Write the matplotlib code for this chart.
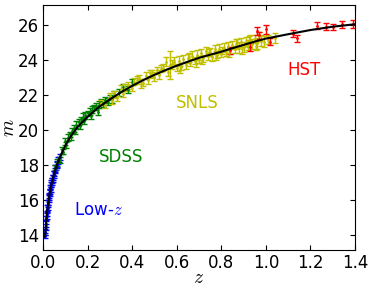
import numpy as np
import matplotlib
matplotlib.use("Agg")
import matplotlib.pyplot as plt

# Low-z sample (blue)
z_low = [0.010, 0.011, 0.012, 0.014, 0.015, 0.016, 0.018, 0.019, 0.021, 0.022,
         0.024, 0.025, 0.027, 0.028, 0.030, 0.031, 0.033, 0.035, 0.036, 0.038,
         0.040, 0.042, 0.044, 0.046, 0.048, 0.050, 0.053, 0.056, 0.059, 0.062,
         0.065, 0.068, 0.072, 0.076]
m_low = [13.95, 14.15, 14.45, 14.65, 14.95, 15.10, 15.22, 15.50, 15.55, 15.80,
         15.85, 16.10, 16.25, 16.15, 16.50, 16.40, 16.70, 16.65, 16.90, 16.95,
         17.10, 17.05, 17.30, 17.25, 17.50, 17.45, 17.70, 17.80, 17.85, 18.05,
         18.00, 18.25, 18.30, 18.45]
e_low = [0.15, 0.18, 0.15, 0.2, 0.15, 0.18, 0.15, 0.2, 0.15, 0.18,
         0.15, 0.2, 0.15, 0.18, 0.15, 0.2, 0.15, 0.18, 0.15, 0.2,
         0.15, 0.18, 0.15, 0.2, 0.15, 0.18, 0.15, 0.2, 0.15, 0.18,
         0.15, 0.2, 0.15, 0.18]

# SDSS (green)
z_sdss = [0.055, 0.065, 0.075, 0.085, 0.09, 0.10, 0.105, 0.11, 0.12, 0.125,
          0.13, 0.14, 0.145, 0.15, 0.16, 0.165, 0.17, 0.18, 0.185, 0.19,
          0.20, 0.21, 0.215, 0.22, 0.23, 0.24, 0.245, 0.25, 0.26, 0.27,
          0.28, 0.29, 0.30, 0.31, 0.32, 0.34, 0.36, 0.38, 0.40]
m_sdss = [17.85, 18.15, 18.30, 18.85, 18.75, 19.35, 19.15, 19.55, 19.75, 19.60,
          19.95, 20.10, 19.90, 20.30, 20.45, 20.25, 20.60, 20.75, 20.50, 20.85,
          20.95, 21.05, 20.80, 21.15, 21.30, 21.35, 21.05, 21.45, 21.60, 21.50,
          21.70, 21.60, 21.85, 21.75, 22.05, 22.15, 22.45, 22.30, 22.75]
e_sdss = [0.15, 0.2, 0.18, 0.2, 0.15, 0.2, 0.18, 0.2, 0.15, 0.2,
          0.18, 0.2, 0.15, 0.2, 0.18, 0.2, 0.15, 0.2, 0.18, 0.2,
          0.15, 0.2, 0.18, 0.2, 0.15, 0.2, 0.18, 0.2, 0.15, 0.2,
          0.18, 0.2, 0.15, 0.2, 0.18, 0.2, 0.15, 0.2, 0.18]

# SNLS (yellow)
z_snls = [0.26, 0.28, 0.30, 0.32, 0.33, 0.35, 0.36, 0.38, 0.40, 0.41,
          0.43, 0.44, 0.46, 0.47, 0.48, 0.50, 0.51, 0.52, 0.54, 0.55,
          0.56, 0.57, 0.58, 0.60, 0.61, 0.62, 0.63, 0.64, 0.65, 0.66,
          0.67, 0.68, 0.69, 0.70, 0.71, 0.72, 0.73, 0.74, 0.75, 0.76,
          0.77, 0.78, 0.79, 0.80, 0.81, 0.82, 0.83, 0.84, 0.85, 0.86,
          0.87, 0.88, 0.89, 0.90, 0.91, 0.92, 0.93, 0.94, 0.95, 0.96,
          0.97, 0.99, 1.01, 1.04,
          0.31, 0.37, 0.42, 0.45, 0.49, 0.53, 0.59, 0.615, 0.655, 0.685,
          0.715, 0.745, 0.775, 0.805, 0.835, 0.865, 0.895, 0.925, 0.955, 0.98]
m_snls = [21.55, 21.45, 21.95, 22.05, 21.80, 22.35, 22.05, 22.55, 22.40, 22.75,
          22.95, 22.65, 23.10, 22.85, 23.25, 23.05, 23.40, 23.15, 23.55, 23.90,
          23.30, 23.70, 23.75, 23.55, 23.95, 23.60, 24.05, 23.70, 24.10, 23.85,
          24.25, 23.95, 24.30, 24.00, 24.40, 24.10, 24.50, 24.20, 24.45, 24.15,
          24.60, 24.30, 24.65, 24.35, 24.70, 24.45, 24.80, 24.55, 24.85, 24.60,
          24.95, 24.70, 25.00, 24.75, 25.05, 24.85, 25.15, 24.90, 25.20, 24.95,
          25.35, 25.05, 25.15, 25.25,
          21.70, 22.40, 22.85, 22.70, 23.20, 23.50, 23.90, 23.45, 24.15, 23.80,
          24.00, 24.45, 24.25, 24.55, 24.40, 24.90, 24.60, 25.05, 24.80, 25.10]
e_snls = [0.15, 0.2, 0.15, 0.2, 0.15, 0.2, 0.15, 0.2, 0.15, 0.2,
          0.2, 0.25, 0.2, 0.25, 0.2, 0.25, 0.2, 0.25, 0.2, 0.25,
          0.2, 0.8, 0.25, 0.2, 0.25, 0.2, 0.25, 0.2, 0.25, 0.2,
          0.25, 0.2, 0.25, 0.2, 0.25, 0.2, 0.25, 0.2, 0.25, 0.2,
          0.25, 0.2, 0.25, 0.2, 0.25, 0.2, 0.25, 0.2, 0.25, 0.2,
          0.25, 0.3, 0.25, 0.3, 0.25, 0.3, 0.25, 0.3, 0.25, 0.3,
          0.25, 0.3, 0.25, 0.3,
          0.2, 0.2, 0.25, 0.2, 0.25, 0.2, 0.25, 0.2, 0.25, 0.2,
          0.25, 0.2, 0.25, 0.2, 0.25, 0.3, 0.25, 0.3, 0.25, 0.3]

# HST (red)
z_hst = [0.84, 0.93, 0.96, 0.97, 1.00, 1.02, 1.12, 1.14, 1.23, 1.27, 1.30, 1.34, 1.39]
m_hst = [24.55, 24.75, 25.65, 25.40, 25.75, 25.05, 25.50, 25.25, 25.95, 25.90, 25.90, 26.05, 26.05]
e_hst = [0.2, 0.22, 0.25, 0.22, 0.25, 0.22, 0.2, 0.2, 0.2, 0.2, 0.18, 0.2, 0.22]

# best-fit curve
z_fit = [0.005, 0.01, 0.015, 0.02, 0.03, 0.04, 0.05, 0.06, 0.07, 0.08, 0.1, 0.12,
         0.15, 0.2, 0.25, 0.3, 0.35, 0.4, 0.45, 0.5, 0.55, 0.6, 0.65, 0.7,
         0.75, 0.8, 0.85, 0.9, 0.95, 1.0, 1.1, 1.2, 1.3, 1.4]
m_fit = [13.9, 14.0, 14.88, 15.5, 16.4, 17.02, 17.52, 17.92, 18.26, 18.56, 19.1, 19.55,
         20.1, 20.75, 21.3, 21.75, 22.15, 22.52, 22.85, 23.15, 23.42, 23.67, 23.9, 24.12,
         24.3, 24.47, 24.67, 24.86, 25.05, 25.22, 25.47, 25.71, 25.9, 26.04]

plt.rcParams['xtick.direction'] = 'in'
plt.rcParams['ytick.direction'] = 'in'
plt.rcParams['xtick.top'] = True
plt.rcParams['ytick.right'] = True
plt.rcParams['mathtext.fontset'] = 'cm'

fig = plt.figure(figsize=(3.74, 2.87), dpi=100)
ax = fig.add_axes([43 / 374, 37 / 287, 312 / 374, 245 / 287])

ax.plot(z_fit, m_fit, color='k', lw=1.5, zorder=5)
kw = dict(fmt='.', ms=2, capsize=2, elinewidth=1, capthick=1)
ax.errorbar(z_low, m_low, yerr=e_low, color='b', **kw)
ax.errorbar(z_sdss, m_sdss, yerr=e_sdss, color='g', **kw)
ax.errorbar(z_snls, m_snls, yerr=e_snls, color='y', **kw)
ax.errorbar(z_hst, m_hst, yerr=e_hst, color='r', **kw)

ax.text(1.17, 23.45, 'HST', color='r', fontsize=12, ha='center', va='center')
ax.text(0.69, 21.55, 'SNLS', color='y', fontsize=12, ha='center', va='center')
ax.text(0.35, 18.45, 'SDSS', color='g', fontsize=12, ha='center', va='center')
ax.text(0.25, 15.4, 'Low-$z$', color='b', fontsize=12, ha='center', va='center')

ax.set_xlim(0, 1.4)
ax.set_ylim(13.14, 27.14)
ax.set_xticks(np.arange(0, 1.41, 0.2))
ax.set_yticks([14, 16, 18, 20, 22, 24, 26])
ax.tick_params(labelsize=12, length=3.5, pad=3)
ax.set_xlabel('$z$', fontsize=14, labelpad=-3)
ax.set_ylabel('$m$', fontsize=14, labelpad=0)

fig.savefig('out.png', dpi=100)
